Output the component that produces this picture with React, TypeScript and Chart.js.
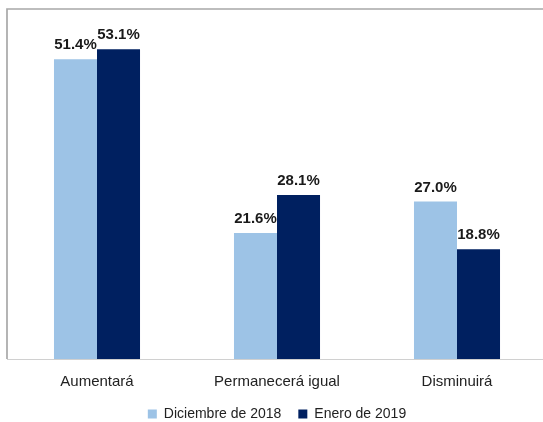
import React, { useEffect, useRef } from "react";
import { Chart, registerables } from "chart.js";

Chart.register(...registerables);

const categories = ["Aumentará", "Permanecerá igual", "Disminuirá"];
const seriesNames = ["Diciembre de 2018", "Enero de 2019"];
const diciembre2018 = [51.4, 21.6, 27.0];
const enero2019 = [53.1, 28.1, 18.8];
const seriesColors = ["#9DC3E6", "#002060"];

const FONT = "'Liberation Sans', Arial, sans-serif";

const framePlugin = {
  id: "frame",
  beforeDatasetsDraw(chart: any) {
    const { ctx, chartArea, width } = chart;
    ctx.save();
    ctx.strokeStyle = "#a8a8a8";
    ctx.lineWidth = 1.7;
    ctx.beginPath();
    ctx.moveTo(chartArea.left, chartArea.bottom);
    ctx.lineTo(chartArea.left, chartArea.top);
    ctx.lineTo(width, chartArea.top);
    ctx.stroke();
    ctx.strokeStyle = "#d0d0d0";
    ctx.lineWidth = 1.2;
    ctx.beginPath();
    ctx.moveTo(chartArea.left, chartArea.bottom + 0.5);
    ctx.lineTo(width, chartArea.bottom + 0.5);
    ctx.stroke();
    ctx.restore();
  },
};

const labelPlugin = {
  id: "barLabels",
  afterDatasetsDraw(chart: any) {
    const { ctx } = chart;
    ctx.save();
    ctx.font = `bold 15px ${FONT}`;
    ctx.fillStyle = "#1a1a1a";
    ctx.textAlign = "center";
    ctx.textBaseline = "alphabetic";
    chart.data.datasets.forEach((ds: any, i: number) => {
      const meta = chart.getDatasetMeta(i);
      meta.data.forEach((bar: any, j: number) => {
        const v = ds.data[j] as number;
        ctx.fillText(v.toFixed(1) + "%", bar.x, bar.y - 10);
      });
    });
    ctx.restore();
  },
};

export default function App() {
  const ref = useRef<HTMLCanvasElement | null>(null);
  useEffect(() => {
    if (!ref.current) return;
    const chart = new Chart(ref.current, {
      type: "bar",
      data: {
        labels: categories,
        datasets: [
          { label: seriesNames[0], data: diciembre2018, backgroundColor: seriesColors[0] },
          { label: seriesNames[1], data: enero2019, backgroundColor: seriesColors[1] },
        ],
      },
      options: {
        animation: false,
        responsive: false,
        devicePixelRatio: 1,
        layout: { padding: { left: 7, top: 9, right: 13, bottom: 0 } },
        datasets: { bar: { categoryPercentage: 0.478, barPercentage: 1 } },
        scales: {
          x: {
            grid: { display: false, drawTicks: false },
            border: { display: false },
            ticks: { padding: 14, color: "#222222", font: { family: FONT, size: 15 } },
            afterFit: (scale: any) => {
              scale.height = 31;
            },
          },
          y: {
            display: false,
            min: 0,
            max: 60,
          },
        },
        plugins: {
          legend: {
            position: "bottom",
            labels: {
              boxWidth: 9,
              boxHeight: 9,
              padding: 17,
              color: "#222222",
              font: { family: FONT, size: 14 },
            },
          },
          tooltip: { enabled: false },
        },
      },
      plugins: [framePlugin, labelPlugin],
    });
    return () => chart.destroy();
  }, []);
  return (
    <div style={{ position: "fixed", left: 0, top: 0, width: 543, height: 422, overflow: "hidden", background: "#fff" }}>
      <canvas ref={ref} width={560} height={431} style={{ display: "block" }} />
    </div>
  );
}
